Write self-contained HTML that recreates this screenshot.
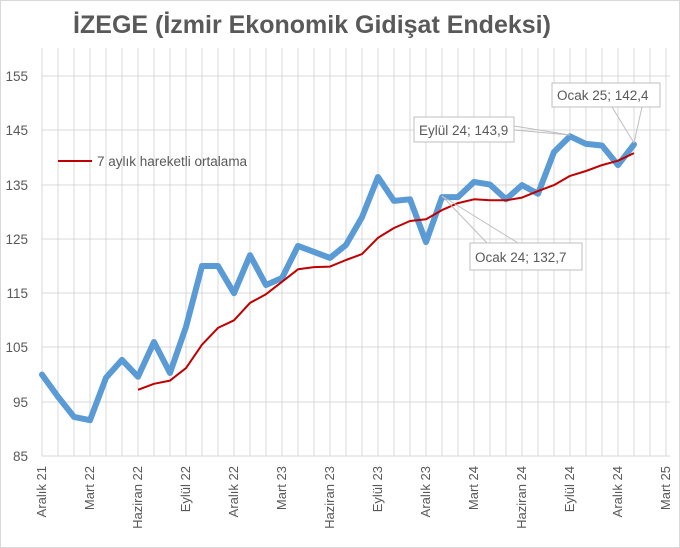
<!DOCTYPE html>
<html><head><meta charset="utf-8"><style>
html,body{margin:0;padding:0;background:#fff}
svg{display:block;font-family:"Liberation Sans",sans-serif}
</style></head><body>
<svg width="680" height="548" viewBox="0 0 680 548" xmlns="http://www.w3.org/2000/svg">
<rect x="0.5" y="0.5" width="679" height="547" fill="#fff" stroke="#d9d9d9"/>
<text x="312" y="33" text-anchor="middle" font-size="25" font-weight="bold" fill="#595959">İZEGE (İzmir Ekonomik Gidişat Endeksi)</text>
<g id="grid" stroke="#d9d9d9" stroke-width="1"></g>
<g font-size="13.5" fill="#595959" text-anchor="end">
<text x="28" y="81">155</text><text x="28" y="135">145</text><text x="28" y="190">135</text><text x="28" y="244">125</text><text x="28" y="298">115</text><text x="28" y="352">105</text><text x="28" y="407">95</text><text x="28" y="461">85</text>
</g>
<g id="xl" font-size="13" fill="#595959" text-anchor="end"></g>
<polyline id="blue" fill="none" stroke="#5b9bd5" stroke-width="6" stroke-linejoin="round" stroke-linecap="round"/>
<polyline id="red" fill="none" stroke="#c00000" stroke-width="2" stroke-linejoin="round"/>
<line x1="58" y1="161" x2="92" y2="161" stroke="#c00000" stroke-width="2"/>
<text x="97" y="166" font-size="13.5" fill="#595959">7 aylık hareketli ortalama</text>
<g stroke="#bfbfbf" stroke-width="1" fill="none">
<line x1="514" y1="130" x2="570" y2="135"/>
<line x1="514" y1="126" x2="570" y2="135"/>
<line x1="612" y1="107" x2="634" y2="143"/>
<line x1="642" y1="107" x2="634" y2="143"/>
<line x1="487" y1="243" x2="442" y2="196"/>
<line x1="518" y1="243" x2="442" y2="196"/>
</g>
<g font-size="13.5" fill="#595959">
<rect x="414" y="117" width="100" height="25" fill="#fff" stroke="#bfbfbf"/><text x="419" y="135">Eylül 24; 143,9</text>
<rect x="552" y="83" width="108" height="24" fill="#fff" stroke="#bfbfbf"/><text x="557" y="100">Ocak 25; 142,4</text>
<rect x="470" y="243" width="112" height="27" fill="#fff" stroke="#bfbfbf"/><text x="475" y="262">Ocak 24; 132,7</text>
</g>
<script>
var g=document.getElementById('grid'),ns='http://www.w3.org/2000/svg';
function L(a,b,c,d){var l=document.createElementNS(ns,'line');l.setAttribute('x1',a);l.setAttribute('y1',b);l.setAttribute('x2',c);l.setAttribute('y2',d);g.appendChild(l);}
for(var i=0;i<=39;i++){L(42+16*i,48,42+16*i,456);}
[76,130,185,239,293,347,402,456].forEach(function(y){L(42,y,670,y);});
var lab=['Aralık 21','Mart 22','Haziran 22','Eylül 22','Aralık 22','Mart 23','Haziran 23','Eylül 23','Aralık 23','Mart 24','Haziran 24','Eylül 24','Aralık 24','Mart 25'];
var xl=document.getElementById('xl');
lab.forEach(function(t,k){var x=42+48*k+4;var e=document.createElementNS(ns,'text');e.setAttribute('transform','translate('+x+',466) rotate(-90)');e.textContent=t;xl.appendChild(e);});
function Y(v){return 456-(v-85)*5.428;}
var b=[100,95.9,92.2,91.6,99.4,102.7,99.6,106,100.3,108.8,120,120,115,122,116.5,117.8,123.7,122.6,121.5,123.9,129,136.4,132,132.3,124.4,132.7,132.7,135.5,135,132.3,134.9,133.3,141,143.9,142.5,142.2,138.6,142.4];
var r=[97.2,98.3,98.9,101.2,105.5,108.6,110,113.2,114.8,117.1,119.4,119.8,119.9,121.1,122.2,125.2,127,128.3,128.6,130.3,131.6,132.3,132.1,132.1,132.6,133.8,134.9,136.6,137.5,138.6,139.4,140.8];
document.getElementById('blue').setAttribute('points',b.map(function(v,i){return (42+16*i)+','+Y(v).toFixed(1);}).join(' '));
document.getElementById('red').setAttribute('points',r.map(function(v,i){return (42+16*(i+6))+','+Y(v).toFixed(1);}).join(' '));
</script>
</svg>
</body></html>
